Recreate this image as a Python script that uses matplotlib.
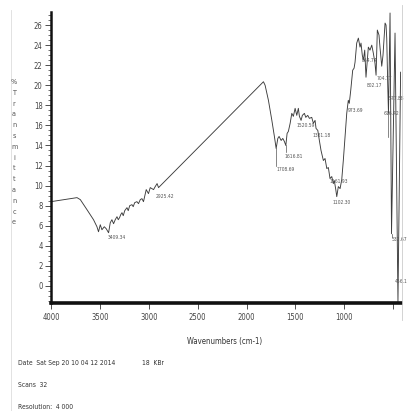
import numpy as np
import matplotlib
matplotlib.use("Agg")
import matplotlib.pyplot as plt
from matplotlib.ticker import MultipleLocator

plt.rcParams['font.family'] = ['DejaVu Sans']
plt.rcParams['font.stretch'] = 'condensed'

# spectrum (wavenumber cm-1, %T)
wavenumber = [4000, 3734, 3700, 3632, 3565, 3530, 3514, 3496, 3479, 3455,
              3435, 3411, 3394, 3377, 3360, 3343, 3325, 3312, 3299, 3287,
              3274, 3261, 3246, 3223, 3210, 3195, 3172, 3159, 3144, 3121,
              3105, 3087, 3070, 3054, 3026, 3003, 2985, 2951, 2934, 2915,
              2900, 1827, 1810, 1776, 1741, 1715, 1697, 1680, 1667, 1646,
              1629, 1613, 1598, 1585, 1572, 1554, 1537, 1521, 1503, 1486,
              1470, 1459, 1442, 1429, 1408, 1394, 1374, 1357, 1333, 1316,
              1299, 1289, 1271, 1255, 1238, 1214, 1197, 1179, 1163, 1146,
              1128, 1112, 1102, 1087, 1077, 1061, 1043, 1026, 1010, 992,
              975, 959, 949, 934, 914, 900, 890, 873, 856, 839,
              829, 816, 805, 791, 778, 754, 737, 719, 703, 686,
              675, 662, 645, 635, 617, 604, 583, 573, 566, 556,
              548, 532, 517, 481, 451, 424]
transmittance = [8.4, 8.8, 8.6, 7.6, 6.6, 5.9, 5.4, 6.1, 5.6, 5.9,
                 5.7, 5.3, 6.3, 6.6, 6.2, 6.6, 6.9, 6.6, 6.8, 7.1,
                 7.3, 7.0, 7.5, 7.8, 7.5, 8.0, 8.1, 7.9, 8.3, 8.4,
                 8.2, 8.6, 8.7, 8.4, 9.6, 9.2, 9.8, 9.6, 9.9, 10.2,
                 9.8, 20.35, 20.0, 18.5, 16.5, 14.9, 13.7, 14.7, 14.9, 14.5,
                 14.7, 14.4, 14.0, 15.2, 15.4, 16.2, 17.2, 16.9, 17.7, 17.0,
                 17.7, 16.9, 16.5, 17.0, 17.2, 16.8, 17.0, 16.7, 16.8, 16.2,
                 16.5, 15.7, 15.5, 14.5, 13.5, 12.5, 12.7, 11.7, 11.8, 10.7,
                 10.9, 10.2, 10.5, 9.6, 8.9, 9.9, 9.7, 10.6, 12.5, 14.9,
                 17.2, 18.5, 18.2, 19.5, 21.5, 21.7, 22.3, 24.2, 24.7, 23.8,
                 24.2, 23.0, 22.5, 23.5, 20.8, 23.8, 23.5, 24.0, 23.2, 22.2,
                 21.0, 25.5, 25.0, 23.8, 21.9, 23.0, 26.2, 26.0, 24.7, 20.2,
                 17.2, 27.2, 5.2, 25.2, -1.6, 21.3]

# peak labels: text, anchor wavenumber, anchor %T
peak_text = ["3409.34", "2925.42", "1708.69", "1616.81", "1520.59", "1381.18",
             "1161.93", "1102.30", "973.69", "864.74", "802.17", "704.77",
             "577.88", "616.42", "532.67", "456.1"]
peak_wn = [3415, 2925, 1695, 1607, 1490, 1325, 1150, 1118, 965, 823,
           769, 667, 550, 602, 520, 488]
peak_val = [4.8, 8.9, 11.6, 12.9, 16.0, 15.0, 10.4, 8.3, 17.5, 22.5,
            20.0, 20.7, 18.7, 17.2, 4.6, 0.4]

# small leader lines under some of the peaks (wavenumber, from, to)
leaders = [(1697, 13.7, 12.0), (1598, 14.0, 13.3), (548, 17.2, 14.8),
           (517, 5.2, 4.9)]

ylabel_chars = list("%Transmittance")

fig = plt.figure(figsize=(4.08, 4.11), dpi=100)
W, H = 408.0, 411.0
ax = fig.add_axes([51 / W, 1 - 303 / H, (400.7 - 51) / W, (303 - 12) / H])

ax.plot(wavenumber, transmittance, color='#3c3c3c', lw=0.65)
for wn, y0, y1 in leaders:
    ax.plot([wn, wn], [y0, y1], color='#555555', lw=0.5)

for t, wn, v in zip(peak_text, peak_wn, peak_val):
    ax.text(wn, v, t, fontsize=3.6, color='#555555', ha='left', va='center',
            clip_on=False)

ax.set_xlim(4000, 423)
ax.set_ylim(-1.7, 27.3)
ax.set_xticks([4000, 3500, 3000, 2500, 2000, 1500, 1000, 500])
ax.set_xticklabels(["4000", "3500", "3000", "2500", "2000", "1500", "1000", ""])
ax.set_yticks(np.arange(0, 27, 2))
ax.yaxis.set_minor_locator(MultipleLocator(0.5))

ax.tick_params(axis='both', which='major', labelsize=5.5, colors='#333333',
               labelcolor='#444444', width=0.6)
ax.tick_params(axis='y', which='major', length=4.5, pad=1.5)
ax.tick_params(axis='y', which='minor', length=2.2, width=0.5, colors='#333333')
ax.tick_params(axis='x', which='major', length=4, pad=3)

for s in ['top', 'right']:
    ax.spines[s].set_visible(False)
ax.spines['left'].set_linewidth(1.8)
ax.spines['bottom'].set_linewidth(2.6)
ax.spines['left'].set_color('#111111')
ax.spines['bottom'].set_color('#111111')

# stacked y label
for i, ch in enumerate(ylabel_chars):
    fig.text(14 / W, 1 - (82 + i * 10.8) / H, ch, fontsize=5.2, color='#555555',
             ha='center', va='center')

fig.text(225 / W, 1 - 341 / H, "Wavenumbers (cm-1)", fontsize=5.6,
         color='#333333', ha='center', va='center')

fs_info = 4.9
fig.text(18 / W, 1 - 363 / H, "Date  Sat Sep 20 10 04 12 2014", fontsize=fs_info,
         color='#333333', ha='left', va='center')
fig.text(142 / W, 1 - 363 / H, "18  KBr", fontsize=fs_info, color='#333333',
         ha='left', va='center')
fig.text(18 / W, 1 - 385 / H, "Scans  32", fontsize=fs_info, color='#333333',
         ha='left', va='center')
fig.text(18 / W, 1 - 407 / H, "Resolution:  4 000", fontsize=fs_info,
         color='#333333', ha='left', va='center')

# faint scan edges
fig.add_artist(plt.Line2D([11 / W, 11 / W], [0, 1 - 10 / H], color='#dddddd', lw=0.6))
fig.add_artist(plt.Line2D([402 / W, 402 / W], [1 - 320 / H, 1 - 5 / H],
                          color='#cccccc', lw=0.6))

fig.savefig("out.png", dpi=100)
